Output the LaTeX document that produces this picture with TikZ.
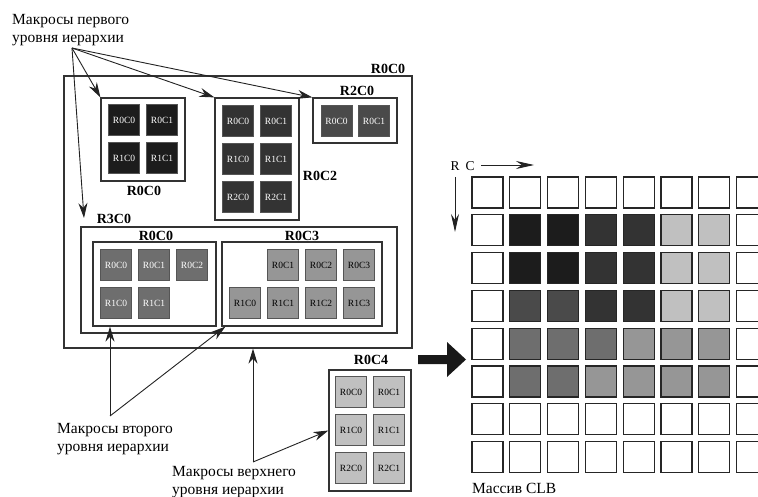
\documentclass[tikz,border=0pt]{standalone}
\usepackage{fontspec}
\setmainfont{Liberation Serif}
\usetikzlibrary{arrows.meta}
\definecolor{cK}{HTML}{1C1C1C}
\definecolor{cD}{HTML}{333333}
\definecolor{cE}{HTML}{4A4A4A}
\definecolor{cM}{HTML}{6E6E6E}
\definecolor{cG}{HTML}{969696}
\definecolor{cL}{HTML}{C0C0C0}
\definecolor{cW}{HTML}{FFFFFF}
\definecolor{cBox}{HTML}{333333}
\definecolor{cSqB}{HTML}{555555}
\definecolor{cLine}{HTML}{222222}
\definecolor{cGrid}{HTML}{262626}
\tikzset{
  box/.style={draw=cBox, line width=1.2pt, fill=white, inner sep=0pt},
  msq/.style={draw=cSqB, line width=0.8pt, minimum size=31pt, inner sep=0pt, font=\fontsize{9.5}{10}\selectfont},
  blabel/.style={font=\bfseries\fontsize{14}{16}\selectfont, inner sep=0pt},
  txt/.style={font=\fontsize{15.5}{18}\selectfont, align=left, inner sep=0pt},
  ptr/.style={draw=cLine, line width=0.9pt, -{Stealth[length=15pt,width=9pt]}},
  rcarrow/.style={draw=cLine, line width=0.9pt, -{Stealth[length=18pt,width=8pt]}},
  cell/.style={draw=cGrid, line width=1.2pt, minimum size=31pt, inner sep=0pt},
}
\newcommand\mkSq[6]{\node[msq, fill=#4, text=#5] (#1) at (#2,#3) {#6};}
\begin{document}
\begin{tikzpicture}[x=1pt,y=-1pt]
\useasboundingbox (0,0) rectangle (758,497);
\clip (0,0) rectangle (758,497);

% ---------- boxes ----------
\node[box, minimum width=348pt, minimum height=272pt] (top) at (238,212) {};
\node[box, minimum width=84pt, minimum height=83pt] (b1) at (143,139.5) {};
\node[box, minimum width=84pt, minimum height=122pt] (b2) at (257,159) {};
\node[box, minimum width=84pt, minimum height=45pt] (b3) at (355,120.5) {};
\node[box, minimum width=316pt, minimum height=106pt] (b4) at (239,280) {};
\node[box, minimum width=123pt, minimum height=84pt] (b5) at (154.5,284) {};
\node[box, minimum width=160pt, minimum height=84pt] (b6) at (302,284) {};
\node[box, minimum width=82pt, minimum height=121pt] (b7) at (370,430.5) {};

% ---------- squares ----------
% box1
\mkSq{a1}{124}{120}{cK}{white}{R0C0}
\mkSq{a2}{162}{120}{cK}{white}{R0C1}
\mkSq{a3}{124}{158}{cK}{white}{R1C0}
\mkSq{a4}{162}{158}{cK}{white}{R1C1}
% box2
\mkSq{c1}{238}{121}{cD}{white}{R0C0}
\mkSq{c2}{276}{121}{cD}{white}{R0C1}
\mkSq{c3}{238}{159}{cD}{white}{R1C0}
\mkSq{c4}{276}{159}{cD}{white}{R1C1}
\mkSq{c5}{238}{197}{cD}{white}{R2C0}
\mkSq{c6}{276}{197}{cD}{white}{R2C1}
% box3
\mkSq{d1}{336.5}{121}{cE}{white}{R0C0}
\mkSq{d2}{374}{121}{cE}{white}{R0C1}
% inner R0C0
\mkSq{e1}{116}{265}{cM}{white}{R0C0}
\mkSq{e2}{154}{265}{cM}{white}{R0C1}
\mkSq{e3}{192}{265}{cM}{white}{R0C2}
\mkSq{e4}{116}{303}{cM}{white}{R1C0}
\mkSq{e5}{154}{303}{cM}{white}{R1C1}
% inner R0C3
\mkSq{f1}{283}{265}{cG}{black}{R0C1}
\mkSq{f2}{321}{265}{cG}{black}{R0C2}
\mkSq{f3}{359}{265}{cG}{black}{R0C3}
\mkSq{f4}{245}{303}{cG}{black}{R1C0}
\mkSq{f5}{283}{303}{cG}{black}{R1C1}
\mkSq{f6}{321}{303}{cG}{black}{R1C2}
\mkSq{f7}{359}{303}{cG}{black}{R1C3}
% R0C4
\mkSq{h1}{351}{392}{cL}{black}{R0C0}
\mkSq{h2}{389}{392}{cL}{black}{R0C1}
\mkSq{h3}{351}{430}{cL}{black}{R1C0}
\mkSq{h4}{389}{430}{cL}{black}{R1C1}
\mkSq{h5}{351}{468}{cL}{black}{R2C0}
\mkSq{h6}{389}{468}{cL}{black}{R2C1}

% ---------- bold labels ----------
\node[blabel] (l0) at (388,69) {R0C0};
\node[blabel] (l1) at (144,191) {R0C0};
\node[blabel] (l2) at (320,176) {R0C2};
\node[blabel] (l3) at (357,91) {R2C0};
\node[blabel] (l4) at (114,219) {R3C0};
\node[blabel] (l5) at (156,236) {R0C0};
\node[blabel] (l6) at (302,236) {R0C3};
\node[blabel] (l7) at (371,360) {R0C4};

% ---------- texts ----------
\node[txt, anchor=north west] (t1) at (12,14) {Макросы первого\\уровня иерархии};
\node[txt, anchor=north west] (t2) at (57,423) {Макросы второго\\уровня иерархии};
\node[txt, anchor=north west] (t3) at (172,466) {Макросы верхнего\\уровня иерархии};
\node[txt, anchor=north west] (t4) at (472,483) {Массив CLB};

% ---------- pointer arrows ----------
\coordinate (p1) at (72,48);
\coordinate (p1d) at (84,218);
\draw[ptr] (p1) -- (b1.north west);
\draw[ptr] (p1) -- (b2.north west);
\draw[ptr] (p1) -- (b3.north west);
\draw[ptr] (p1) -- (p1d);

\coordinate (p2) at (110,416);
\draw[ptr] (p2) -- (b5.south -| p2);
\draw[ptr] (p2) -- ([xshift=4pt]b6.south west);

\coordinate (p3) at (253,462);
\draw[ptr] (p3) -- (top.south -| p3);
\draw[ptr] (p3) -- (b7.west);

% ---------- big arrow ----------
\fill[black!90] (418,355) -- (447,355) -- (447,342) -- (466,359.5) -- (447,377) -- (447,364) -- (418,364) -- cycle;

% ---------- grid ----------
\node[font=\fontsize{13.5}{14}\selectfont, inner sep=0pt] (rl) at (455,166) {R};
\node[font=\fontsize{13.5}{14}\selectfont, inner sep=0pt] (cl) at (470,166) {C};
\coordinate (ce) at (534,165);
\coordinate (re) at (455,232);
\coordinate (cs) at (481,165);
\coordinate (rs) at (455,177);
\draw[rcarrow] (cs) -- (ce);
\draw[rcarrow] (rs) -- (re);

\foreach \r/\cols in {0/{cW,cW,cW,cW,cW,cW,cW,cW},
                      1/{cW,cK,cK,cD,cD,cL,cL,cW},
                      2/{cW,cK,cK,cD,cD,cL,cL,cW},
                      3/{cW,cE,cE,cD,cD,cL,cL,cW},
                      4/{cW,cM,cM,cM,cG,cG,cG,cW},
                      5/{cW,cM,cM,cG,cG,cG,cG,cW},
                      6/{cW,cW,cW,cW,cW,cW,cW,cW},
                      7/{cW,cW,cW,cW,cW,cW,cW,cW}}{
  \foreach \col [count=\c from 0] in \cols {
    \node[cell, fill=\col] (g\r-\c) at ({487.5+37.8*\c},{192.5+37.8*\r}) {};
  }
}
\end{tikzpicture}
\end{document}
